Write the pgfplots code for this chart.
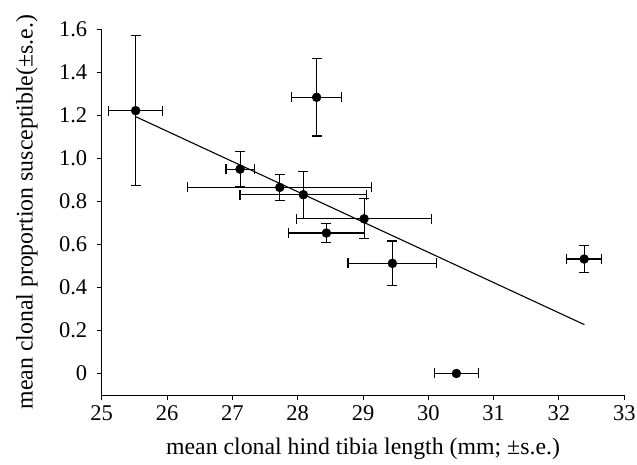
\documentclass[border=0pt]{standalone}
\usepackage{fontspec}
\setmainfont{Liberation Serif}
\usepackage{pgfplots}
\pgfplotsset{compat=1.18}
\pgfplotstableread{
x y ex ey
25.52 1.222 0.415 0.35
28.29 1.284 0.38 0.18
27.118 0.950 0.215 0.082
27.726 0.865 1.41 0.06
28.087 0.831 0.97 0.11
29.017 0.719 1.03 0.093
28.44 0.653 0.58 0.043
29.45 0.512 0.68 0.104
32.386 0.532 0.27 0.062
}\datatab
\pgfplotstableread{
x y ex
30.43 0 0.34
}\zerotab
\begin{document}
\begin{tikzpicture}
\begin{axis}[
  name=ax,
  scale only axis, width=522.6pt, height=365.7pt,
  xmin=25, xmax=33, ymin=-0.1, ymax=1.6,
  axis x line*=bottom, axis y line*=left,
  axis line style={line width=1pt, black},
  tick align=outside, major tick length=5pt,
  tick style={line width=1pt, black},
  xtick={25,26,27,28,29,30,31,32,33},
  ytick={0,0.2,0.4,0.6,0.8,1.0,1.2,1.4,1.6},
  yticklabels={0,0.2,0.4,0.6,0.8,1.0,1.2,1.4,1.6},
  /pgf/number format/assume math mode=true,
  tick label style={font=\fontsize{22.5}{24}\selectfont},
  xticklabel style={yshift=-2pt},
  yticklabel style={xshift=-6pt},
  xlabel={mean clonal hind tibia length (mm; ±s.e.)},
  ylabel={mean clonal proportion susceptible(±s.e.)},
  label style={font=\fontsize{23.8}{26}\selectfont},
  xlabel style={at={(axis description cs:0.5,-0.164)}, anchor=base, inner sep=0pt},
  ylabel style={at={(axis description cs:-0.132,0.5)}, anchor=base, inner sep=0pt},
  clip=false,
]
\addplot[black, line width=1.1pt] coordinates {(25.52,1.194) (32.39,0.227)};
\addplot[only marks, mark=*, black, mark size=4.5pt,
  error bars/.cd, x dir=both, x explicit, y dir=both, y explicit,
  error bar style={line width=1.1pt, black},
  error mark options={rotate=90, black, line width=1.1pt, mark size=5pt}]
  table[x=x, y=y, x error=ex, y error=ey] {\datatab};
\addplot[only marks, mark=*, black, mark size=4.5pt,
  error bars/.cd, x dir=both, x explicit,
  error bar style={line width=1.1pt, black},
  error mark options={rotate=90, black, line width=1.1pt, mark size=5pt}]
  table[x=x, y=y, x error=ex] {\zerotab};
\end{axis}
\pgfresetboundingbox
\path[use as bounding box] (ax.south west) ++(-101.7pt,-69pt) rectangle ++(637pt,464pt);
\end{tikzpicture}
\end{document}
